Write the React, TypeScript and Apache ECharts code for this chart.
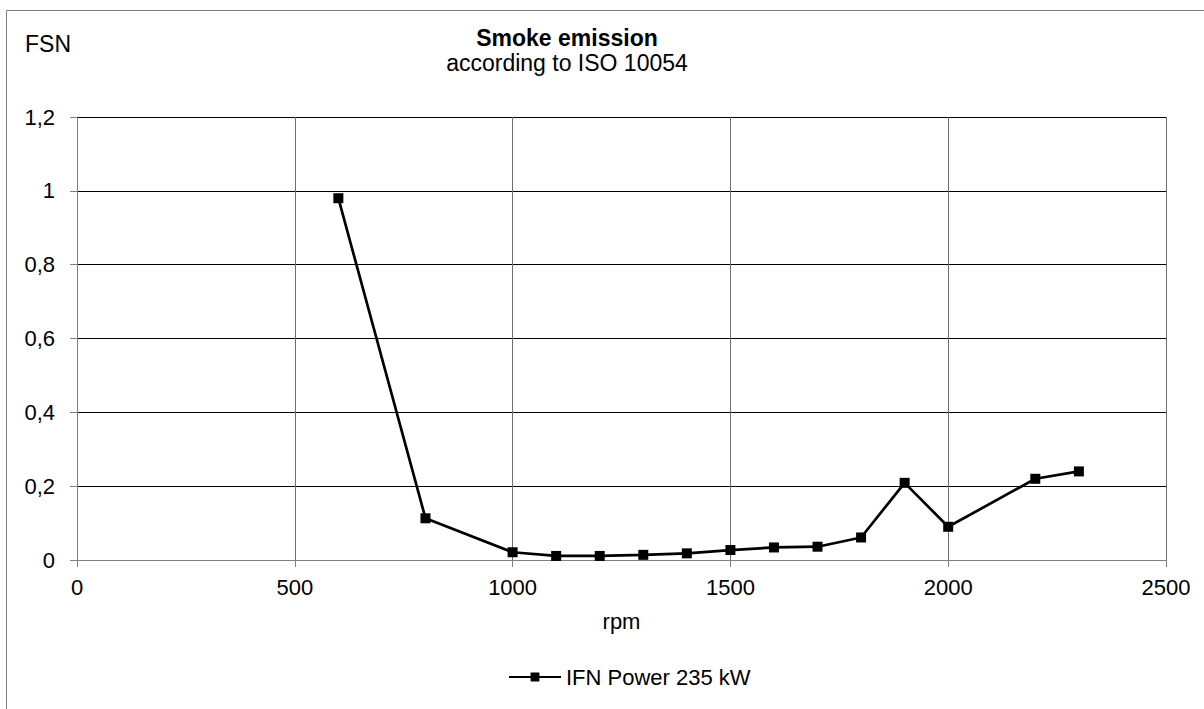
import React, { useEffect, useRef } from "react";
import * as echarts from "echarts";

const rpm = [600, 800, 1000, 1100, 1200, 1300, 1400, 1500, 1600, 1700, 1800, 1900, 2000, 2200, 2300];
const fsn = [0.98, 0.113, 0.021, 0.011, 0.011, 0.014, 0.018, 0.027, 0.034, 0.036, 0.061, 0.209, 0.09, 0.22, 0.24];
const seriesName = "IFN Power 235 kW";
const titleText = "Smoke emission";
const subtitleText = "according to ISO 10054";
const yAxisTitle = "FSN";
const xAxisTitle = "rpm";

const FONT = "Liberation Sans, Arial, Helvetica, sans-serif";

export default function App() {
  const ref = useRef<HTMLDivElement>(null);
  useEffect(() => {
    if (!ref.current) return;
    const chart = echarts.init(ref.current, null, { renderer: "svg" });
    chart.setOption({
      animation: false,
      backgroundColor: "#fff",
      textStyle: { fontFamily: FONT },
      grid: { left: 77, right: 38, top: 117, bottom: 149, containLabel: false },
      graphic: [
        {
          type: "rect",
          shape: { x: 6.5, y: 10.5, width: 1400, height: 900 },
          style: { fill: "none", stroke: "#7f7f7f", lineWidth: 1 },
          silent: true,
        },
        {
          type: "text",
          x: 567,
          y: 38,
          style: {
            text: titleText,
            font: `bold 23px ${FONT}`,
            fill: "#000",
            textAlign: "center",
            textVerticalAlign: "middle",
          },
        },
        {
          type: "text",
          x: 567,
          y: 63,
          style: {
            text: subtitleText,
            font: `23px ${FONT}`,
            fill: "#000",
            textAlign: "center",
            textVerticalAlign: "middle",
          },
        },
        {
          type: "text",
          x: 25,
          y: 44,
          style: {
            text: yAxisTitle,
            font: `23px ${FONT}`,
            fill: "#000",
            textAlign: "left",
            textVerticalAlign: "middle",
          },
        },
      ],
      legend: {
        left: 503,
        top: 661,
        itemWidth: 52,
        itemHeight: 11,
        itemGap: 10,
        textStyle: { fontSize: 22, color: "#000", fontFamily: FONT },
        data: [seriesName],
      },
      xAxis: {
        type: "value",
        min: 0,
        max: 2500,
        interval: 500,
        name: xAxisTitle,
        nameLocation: "middle",
        nameGap: 50,
        nameTextStyle: { fontSize: 22, color: "#000", fontFamily: FONT },
        axisLine: { show: true, lineStyle: { color: "#808080", width: 1 } },
        axisTick: { show: true, length: 7, lineStyle: { color: "#808080" } },
        axisLabel: {
          fontSize: 22,
          color: "#000",
          margin: 16,
          fontFamily: FONT,
          formatter: (v: number) => String(v),
        },
        splitLine: { show: true, lineStyle: { color: "#6e6e6e", width: 1 } },
      },
      yAxis: {
        type: "value",
        min: 0,
        max: 1.2,
        interval: 0.2,
        axisLine: { show: true, lineStyle: { color: "#808080", width: 1 } },
        axisTick: { show: true, length: 7, lineStyle: { color: "#808080" } },
        axisLabel: {
          fontSize: 22,
          color: "#000",
          margin: 22,
          fontFamily: FONT,
          formatter: (v: number) => String(+v.toFixed(1)).replace(".", ","),
        },
        splitLine: { show: true, lineStyle: { color: "#000", width: 1 } },
      },
      series: [
        {
          name: seriesName,
          type: "line",
          data: rpm.map((r, i) => [r, fsn[i]]),
          symbol: "rect",
          symbolSize: 10,
          showAllSymbol: true,
          lineStyle: { color: "#000", width: 2.7 },
          itemStyle: { color: "#000" },
        },
      ],
    });
    return () => chart.dispose();
  }, []);
  return (
    <div
      ref={ref}
      style={{ position: "absolute", left: 0, top: 0, width: 1204, height: 709 }}
    />
  );
}
